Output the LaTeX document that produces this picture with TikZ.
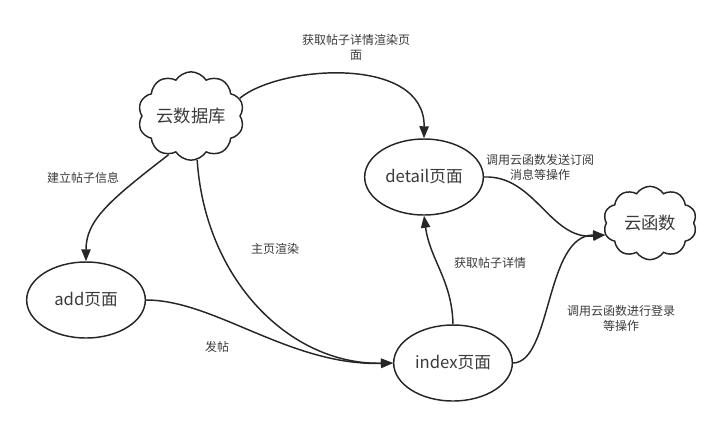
\documentclass[tikz,border=0pt]{standalone}
\usepackage{fontspec}
\setmainfont{Noto Sans CJK SC}
\usetikzlibrary{shapes.geometric,shapes.symbols,arrows.meta}
\definecolor{ink}{HTML}{262626}
\definecolor{txt}{HTML}{3A3A3A}
\begin{document}
\begin{tikzpicture}[x=0.75pt,y=-0.75pt,
  page/.style={ellipse,draw=ink,line width=1.1pt,minimum width=89pt,minimum height=57pt,inner sep=0pt,text=txt,font=\fontsize{12.5}{14}\selectfont},
  cloudbox/.style={cloud,cloud puffs=10,cloud puff arc=115,aspect=1.3,draw=ink,line width=1.1pt,minimum width=70pt,minimum height=55pt,inner sep=0pt,text=txt,font=\fontsize{13}{14}\selectfont},
  lbl/.style={text=txt,font=\fontsize{9}{11.25}\selectfont,align=center,inner sep=0pt},
  conn/.style={draw=ink,line width=1.1pt,-{Triangle[length=9pt,width=7pt]}}]
\useasboundingbox (0,0) rectangle (720,426);
\node[cloudbox] (db) at (191,116) {云数据库};
\node[cloudbox] (fn) at (650,223) {云函数};
\node[page] (detail) at (424,177) {detail页面};
\node[page] (add) at (86,300) {add页面};
\node[page] (index) at (453,363) {index页面};
\draw[conn] (db.20) .. controls (280,65) and (425,55) .. (detail.north);
\draw[conn] (db.240) .. controls (110,200) and (86,220) .. (add.north);
\draw[conn] (db.278) .. controls (205,280) and (290,365) .. (index.west);
\draw[conn] (add.east) .. controls (215,300) and (290,366) .. (index.west);
\draw[conn] (index.north) .. controls (452,280) and (430,260) .. (detail.south);
\draw[conn] (detail.east) .. controls (535,175) and (550,240) .. (fn.195);
\draw[conn] (index.east) .. controls (552,362) and (545,235) .. (fn.195);
\node[lbl] (l1) at (356,47) {获取帖子详情渲染页\\面};
\node[lbl] (l2) at (83,178) {建立帖子信息};
\node[lbl] (l3) at (275,249) {主页渲染};
\node[lbl] (l4) at (217,347) {发帖};
\node[lbl] (l5) at (490,263) {获取帖子详情};
\node[lbl] (l6) at (540,167) {调用云函数发送订阅\\消息等操作};
\node[lbl] (l7) at (621,318) {调用云函数进行登录\\等操作};
\end{tikzpicture}
\end{document}
